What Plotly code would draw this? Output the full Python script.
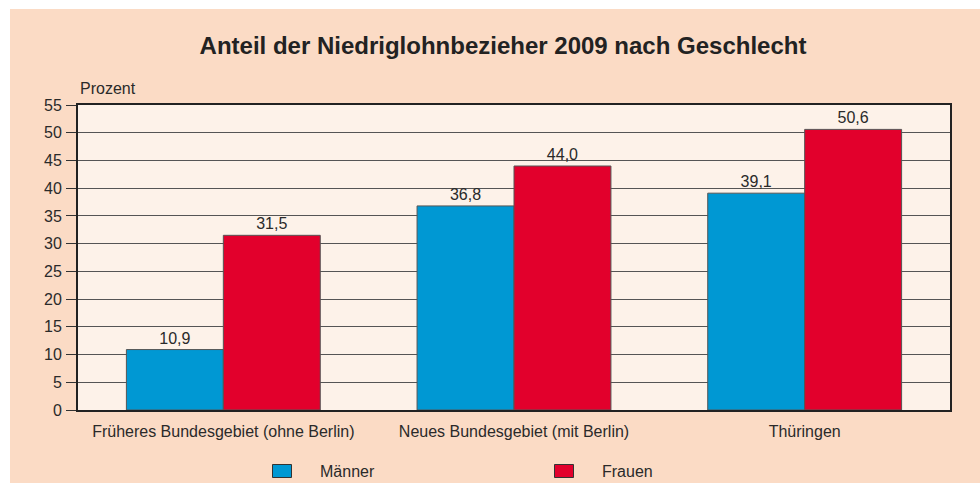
import plotly.graph_objects as go

categories = ["Früheres Bundesgebiet (ohne Berlin)", "Neues Bundesgebiet (mit Berlin)", "Thüringen"]
maenner = [10.9, 36.8, 39.1]
frauen = [31.5, 44.0, 50.6]
series_names = ["Männer", "Frauen"]
series_colors = ["#0098D3", "#E2002C"]
y_ticks = list(range(0, 56, 5))

FONT = "Liberation Sans, Arial, sans-serif"
TXT = "#2a2a2a"
FS = 16

fig = go.Figure()
for name, vals, col in zip(series_names, [maenner, frauen], series_colors):
    fig.add_trace(go.Bar(
        x=categories, y=vals, name=name,
        marker=dict(color=col, line=dict(color="#555555", width=1)),
        texttemplate="%{y:.1f}", textposition="outside",
        textfont=dict(size=FS, color=TXT, family=FONT),
        cliponaxis=False, showlegend=False,
    ))

L, R, T, B = 78, 30, 105, 73
W, H = 980, 483
pw, ph = W - L - R, H - T - B

def px_x(p):
    return (p - L) / pw

def px_y(p):
    return (H - B - p) / ph

shapes = [
    dict(type="rect", xref="paper", yref="paper", x0=px_x(0), x1=px_x(W), y0=px_y(9), y1=px_y(-5),
         fillcolor="white", line=dict(width=0), layer="below"),
    dict(type="rect", xref="paper", yref="paper", x0=px_x(-5), x1=px_x(10), y0=px_y(H + 5), y1=px_y(-5),
         fillcolor="white", line=dict(width=0), layer="below"),
]
annotations = [
    dict(text="Prozent", xref="paper", yref="paper", x=0, y=px_y(88), xanchor="left", yanchor="middle",
         showarrow=False, font=dict(size=FS, color=TXT, family=FONT)),
]
leg_sq_x = [272.5, 554.5]
leg_txt_x = [318, 600]
for name, col, sx, tx in zip(series_names, series_colors, leg_sq_x, leg_txt_x):
    shapes.append(dict(type="rect", xref="paper", yref="paper", x0=px_x(sx), x1=px_x(sx + 19),
                       y0=px_y(477.5), y1=px_y(464.5), fillcolor=col, line=dict(color="#333333", width=1)))
    annotations.append(dict(text=name, xref="paper", yref="paper", x=px_x(tx), y=px_y(471),
                            xanchor="left", yanchor="middle", showarrow=False,
                            font=dict(size=FS, color=TXT, family=FONT)))

fig.update_layout(
    width=W, height=H,
    margin=dict(l=L, r=R, t=T, b=B),
    paper_bgcolor="#FBDBC5",
    plot_bgcolor="#FDF2E9",
    separators=",.",
    barmode="group", bargap=0.333, bargroupgap=0,
    font=dict(family=FONT, color=TXT, size=FS),
    title=dict(text="<b>Anteil der Niedriglohnbezieher 2009 nach Geschlecht</b>",
               x=503 / W, xanchor="center", xref="container",
               y=1 - 46 / H, yanchor="middle", yref="container",
               font=dict(size=24, color="#222222", family=FONT)),
    showlegend=False,
    shapes=shapes,
    annotations=annotations,
    xaxis=dict(showline=True, linecolor="#222222", linewidth=2, mirror=True,
               ticks="", ticklabelstandoff=6, tickfont=dict(size=FS, color=TXT, family=FONT),
               showgrid=False),
    yaxis=dict(range=[0, 55], tickvals=y_ticks, ticks="outside", ticklen=10, tickcolor="#333333",
               showline=True, linecolor="#222222", linewidth=2, mirror=True,
               showgrid=True, gridcolor="#555555", gridwidth=1, zeroline=False,
               tickfont=dict(size=FS, color=TXT, family=FONT), ticklabelstandoff=1),
)

fig.write_html("out.html", config={"displayModeBar": False},
               post_script="document.body.style.margin='0';document.body.style.padding='0';")
